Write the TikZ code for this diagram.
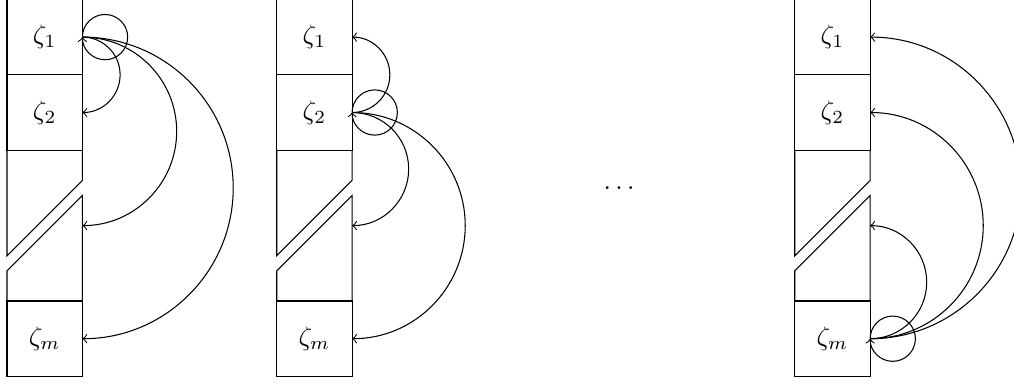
\documentclass[tikz,border=0pt]{standalone}
\usetikzlibrary{calc}
\begin{document}
\begin{tikzpicture}[
  cell/.style={draw,minimum width=1cm,minimum height=1cm,inner sep=0pt,outer sep=0pt},
  arr/.style={->}]
\clip (0,-0.008) rectangle (13.448,-5.088);
\foreach \p/\x in {a/0.593,b/4.170,c/11.040}{
  \node[cell] (\p-1) at (\x,-0.5) {$\zeta_1$};
  \node[cell] (\p-2) at (\x,-1.5) {$\zeta_2$};
  \node[cell] (\p-m) at (\x,-4.5) {$\zeta_m$};
  \draw (\x-0.5,-2) -- (\x-0.5,-3.4) -- (\x+0.5,-2.4) -- (\x+0.5,-2);
  \draw (\x-0.5,-4) -- (\x-0.5,-3.6) -- (\x+0.5,-2.6) -- (\x+0.5,-4);
  \coordinate (\p-g) at (\x+0.5,-3);
}
\node (dots) at (8.209,-2.497) {$\dots$};
% downward semicircle from source to target (clockwise, bulging right)
\foreach \s/\t in {a-1.east/a-2.east, a-1.east/a-g, a-1.east/a-m.east,
                   b-2.east/b-g, b-2.east/b-m.east}{
  \draw[arr] let \p1=(\s), \p2=(\t), \n1={(\y1-\y2)/2} in
    (\s) arc[start angle=90,end angle=-90,radius=\n1];
}
% upward semicircle (counter-clockwise, bulging right)
\foreach \s/\t in {b-2.east/b-1.east, c-m.east/c-1.east, c-m.east/c-2.east, c-m.east/c-g}{
  \draw[arr] let \p1=(\s), \p2=(\t), \n1={(\y2-\y1)/2} in
    (\s) arc[start angle=-90,end angle=90,radius=\n1];
}
% self loops
\draw[arr] (a-1.east) arc[start angle=180,end angle=-180,radius=0.3];
\draw[arr] (b-2.east) arc[start angle=180,end angle=-180,radius=0.3];
\draw[arr] (c-m.east) arc[start angle=180,end angle=-180,radius=0.3];
\end{tikzpicture}
\end{document}
